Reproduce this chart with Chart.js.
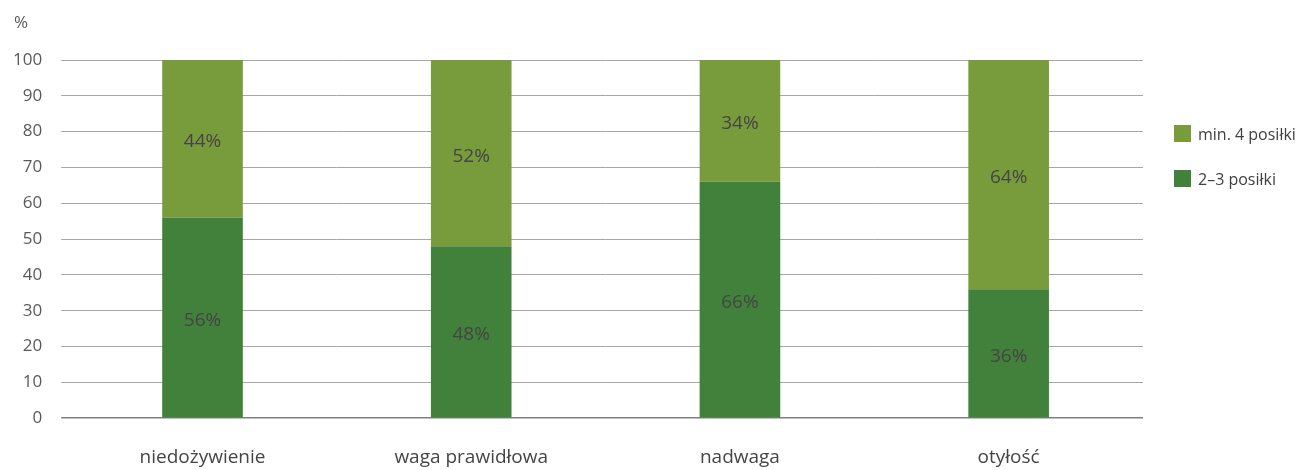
<!DOCTYPE html>
<html>
<head>
<meta charset="utf-8">
<script src="https://cdn.jsdelivr.net/npm/chart.js@4"></script>
<style>
  body { margin: 0; background: #fff; font-family: "Open Sans", sans-serif; }
  #wrap { position: relative; width: 1311px; height: 470px; }
  #unit { position: absolute; left: 14px; top: 10px; font-size: 17px; color: #595959; }
  #legend { position: absolute; left: 1174px; top: 122px; font-size: 16px; color: #404040; }
  .item { display: flex; align-items: center; height: 23px; margin-bottom: 22px; }
  .box { width: 17px; height: 17px; margin-right: 7px; }
</style>
</head>
<body>
<div id="wrap">
  <canvas id="chart" width="1311" height="470"></canvas>
  <div id="unit">%</div>
  <div id="legend"></div>
</div>
<script>
const categories = ['niedożywienie', 'waga prawidłowa', 'nadwaga', 'otyłość'];
const low = [56, 48, 66, 36];   // 2–3 posiłki
const high = [44, 52, 34, 64];  // min. 4 posiłki
const yTicks = [0, 10, 20, 30, 40, 50, 60, 70, 80, 90, 100];

const darkGreen = '#42813b';
const lightGreen = '#789b3c';

// draws the % value in the middle of every bar segment
const barLabels = {
    id: 'barLabels',
    afterDatasetsDraw(chart) {
        const ctx = chart.ctx;
        ctx.save();
        ctx.font = '19px "Open Sans", sans-serif';
        ctx.fillStyle = '#454545';
        ctx.textAlign = 'center';
        ctx.textBaseline = 'middle';
        chart.data.datasets.forEach((ds, i) => {
            chart.getDatasetMeta(i).data.forEach((bar, j) => {
                const mid = (bar.y + bar.base) / 2 + 3;
                ctx.fillText(ds.data[j] + '%', bar.x, mid);
            });
        });
        ctx.restore();
    }
};

const chart = new Chart(document.getElementById('chart'), {
    type: 'bar',
    data: {
        labels: categories,
        datasets: [
            { label: '2–3 posiłki', data: low, backgroundColor: darkGreen },
            { label: 'min. 4 posiłki', data: high, backgroundColor: lightGreen }
        ]
    },
    options: {
        responsive: false,
        animation: false,
        layout: { padding: { top: 60, right: 168, bottom: -27, left: -6 } },
        plugins: { legend: { display: false }, tooltip: { enabled: false } },
        datasets: { bar: { barPercentage: 0.3, categoryPercentage: 1 } },
        scales: {
            x: {
                stacked: true,
                grid: { display: false, drawTicks: false },
                border: { display: false },
                ticks: { padding: 28, color: '#454545', font: { family: 'Open Sans', size: 19 } }
            },
            y: {
                stacked: true,
                min: 0,
                max: 100,
                afterBuildTicks: axis => { axis.ticks = yTicks.map(v => ({ value: v })); },
                grid: {
                    // the zero line doubles as the darker x axis
                    color: c => c.tick && c.tick.value === 0 ? '#7f7f7f' : '#a6a6a6',
                    lineWidth: c => c.tick && c.tick.value === 0 ? 1.5 : 1,
                    tickLength: 7,
                    drawTicks: true
                },
                border: { display: false },
                ticks: { padding: 19, color: '#595959', font: { family: 'Open Sans', size: 17 } }
            }
        }
    },
    plugins: [barLabels]
});

// legend on the right, top item is the upper segment
const legend = document.getElementById('legend');
[['min. 4 posiłki', lightGreen], ['2–3 posiłki', darkGreen]].forEach(([name, col]) => {
    legend.innerHTML += `<div class="item"><span class="box" style="background:${col}"></span>${name}</div>`;
});
</script>
</body>
</html>
